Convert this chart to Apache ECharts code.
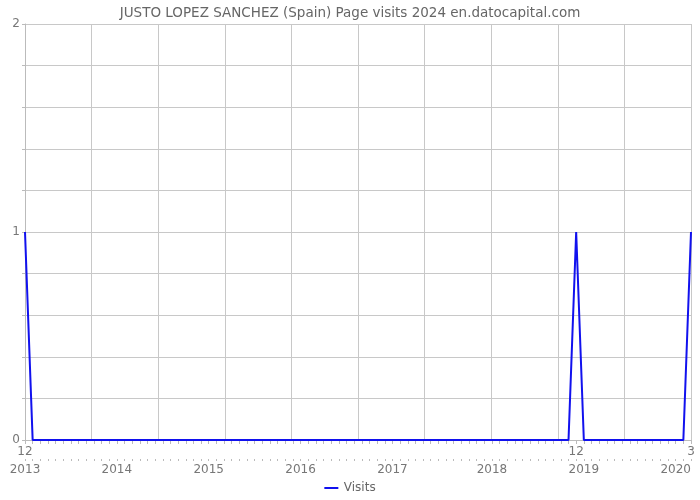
<!DOCTYPE html>
<html><head><meta charset="utf-8">
<script src="https://cdn.jsdelivr.net/npm/echarts@6/dist/echarts.min.js"></script>
<style>html,body{margin:0;padding:0;background:#fff}#c{width:700px;height:500px}</style>
</head><body><div id="c"></div>
<script>
// Monthly categories Dec 2012 .. Mar 2020
var monthLabels = ["12","1","2","3","4","5","6","7","8","9","10","11",
 "12","1","2","3","4","5","6","7","8","9","10","11",
 "12","1","2","3","4","5","6","7","8","9","10","11",
 "12","1","2","3","4","5","6","7","8","9","10","11",
 "12","1","2","3","4","5","6","7","8","9","10","11",
 "12","1","2","3","4","5","6","7","8","9","10","11",
 "12","1","2","3","4","5","6","7","8","9","10","11",
 "12","1","2","3"];
var shownMonthIdx = [0, 72, 87];
var yearLabels = ["2013","2014","2015","2016","2017","2018","2019","2020"];
var yearIdx = [0, 12, 24, 36, 48, 61, 73, 85];
var visits = [1,0,0,0,0,0,0,0,0,0,0,0,
 0,0,0,0,0,0,0,0,0,0,0,0,
 0,0,0,0,0,0,0,0,0,0,0,0,
 0,0,0,0,0,0,0,0,0,0,0,0,
 0,0,0,0,0,0,0,0,0,0,0,0,
 0,0,0,0,0,0,0,0,0,0,0,0,
 1,0,0,0,0,0,0,0,0,0,0,0,
 0,0,0,1];
var yTicks = [0,1,2];

var cats = monthLabels.map(function(m,i){return String(i);});
var yearRow = cats.map(function(c,i){var k=yearIdx.indexOf(i);return k>=0?yearLabels[k]:"";});
var FONT = "DejaVu Sans";
var chart = echarts.init(document.getElementById('c'));
chart.setOption({
  animation:false,
  title:{text:"JUSTO LOPEZ SANCHEZ (Spain) Page visits 2024 en.datocapital.com",left:'center',top:1,
    textStyle:{fontFamily:FONT,fontSize:13.5,fontWeight:'normal',color:'#666'}},
  legend:{bottom:1,left:'center',icon:'path://M0,0 L14,0 L14,2 L0,2 Z',itemWidth:15,itemHeight:2,
    textStyle:{fontFamily:FONT,fontSize:12,color:'#666'},data:['Visits']},
  grid:{left:25,right:9,top:24,bottom:60,containLabel:false},
  xAxis:[
    {type:'category',data:cats,boundaryGap:false,position:'bottom',
     axisLine:{lineStyle:{color:'#bbb'}},
     axisTick:{interval:0,length:4,lineStyle:{color:'#bbb'}},
     axisLabel:{interval:0,margin:6,fontFamily:FONT,fontSize:12,color:'#777',
       formatter:function(v,i){return shownMonthIdx.indexOf(i)>=0?monthLabels[i]:"";}},
     splitLine:{show:false}},
    {type:'category',data:yearRow,boundaryGap:false,position:'bottom',offset:19,
     axisLine:{show:false},
     axisTick:{interval:0,length:2,lineStyle:{color:'#bbb'}},
     axisLabel:{interval:0,margin:5,fontFamily:FONT,fontSize:12,color:'#777',
       formatter:function(v){return v;}},
     splitLine:{show:false}},
    {type:'value',min:0,max:10,interval:1,position:'top',
     axisLine:{show:false},axisTick:{show:false},axisLabel:{show:false},
     splitLine:{show:true,lineStyle:{color:'#c8c8c8'}}}
  ],
  yAxis:{type:'value',min:0,max:2,interval:0.2,
    axisLine:{show:true,lineStyle:{color:'#bbb'}},
    axisTick:{show:true,length:3,lineStyle:{color:'#bbb'}},
    axisLabel:{margin:5,fontFamily:FONT,fontSize:12,color:'#777',
      formatter:function(v){var r=Math.round(v*1000)/1000;return yTicks.indexOf(r)>=0?String(r):"";}},
    splitLine:{lineStyle:{color:'#c8c8c8'}}},
  series:[{name:'Visits',type:'line',xAxisIndex:0,data:visits,symbol:'none',
    lineStyle:{color:'#1111ee',width:2},itemStyle:{color:'#1111ee'}}]
});
</script></body></html>
